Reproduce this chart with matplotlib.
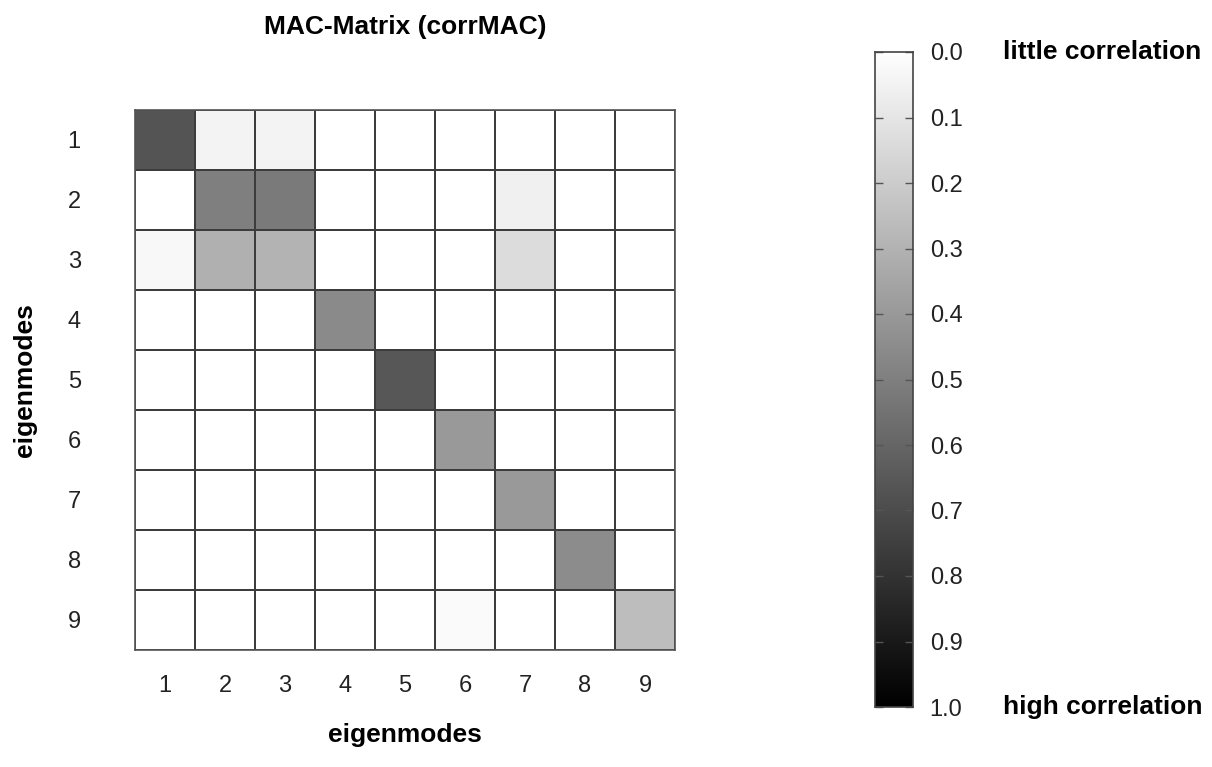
import numpy as np
import matplotlib
matplotlib.use("Agg")
import matplotlib.pyplot as plt

plt.rcParams['font.family'] = ['Liberation Sans', 'DejaVu Sans']

modes = [1, 2, 3, 4, 5, 6, 7, 8, 9]
row1 = [0.67, 0.05, 0.05, 0.00, 0.00, 0.00, 0.00, 0.00, 0.00]
row2 = [0.00, 0.50, 0.52, 0.00, 0.00, 0.00, 0.06, 0.00, 0.00]
row3 = [0.03, 0.31, 0.30, 0.00, 0.00, 0.00, 0.14, 0.00, 0.00]
row4 = [0.00, 0.00, 0.00, 0.46, 0.00, 0.00, 0.00, 0.00, 0.00]
row5 = [0.00, 0.00, 0.00, 0.00, 0.66, 0.00, 0.00, 0.00, 0.00]
row6 = [0.00, 0.00, 0.00, 0.00, 0.00, 0.40, 0.00, 0.00, 0.00]
row7 = [0.00, 0.00, 0.00, 0.00, 0.00, 0.00, 0.40, 0.00, 0.00]
row8 = [0.00, 0.00, 0.00, 0.00, 0.00, 0.00, 0.00, 0.45, 0.00]
row9 = [0.00, 0.00, 0.00, 0.00, 0.00, 0.02, 0.00, 0.00, 0.26]
cbar_ticks = [0.0, 0.1, 0.2, 0.3, 0.4, 0.5, 0.6, 0.7, 0.8, 0.9, 1.0]

mac = np.array([row1, row2, row3, row4, row5, row6, row7, row8, row9])

fig = plt.figure(figsize=(12.12, 7.67), dpi=100)
W, H = 1212, 767
ax = fig.add_axes([135 / W, 1 - 650 / H, 540 / W, 540 / H])
edges = np.arange(len(modes) + 1) + 0.5
mesh = ax.pcolormesh(edges, edges, mac, cmap='gray_r', vmin=0, vmax=1,
                     edgecolors='#3c3c3c', linewidth=1.2)
ax.set_xlim(0.5, 9.5)
ax.set_ylim(9.5, 0.5)
ax.set_xticks(modes)
ax.set_yticks(modes)
ax.set_xticklabels([str(m) for m in modes])
ax.set_yticklabels([str(m) for m in modes])
ax.tick_params(axis='x', length=0, pad=18, labelsize=17, labelcolor='#222222')
ax.tick_params(axis='y', length=0, pad=39, labelsize=17, labelcolor='#222222')
for s in ax.spines.values():
    s.set_edgecolor('#555555')
    s.set_linewidth(1.2)
ax.set_title('MAC-Matrix (corrMAC)', fontsize=19, fontweight='bold', pad=55)
ax.set_xlabel('eigenmodes', fontsize=19, fontweight='bold', labelpad=19)
ax.set_ylabel('eigenmodes', fontsize=19, fontweight='bold', labelpad=22)

cax = fig.add_axes([875 / W, 1 - 707 / H, 38 / W, 655 / H])
grad = np.linspace(0, 1, 256).reshape(-1, 1)
cax.imshow(grad, aspect='auto', cmap='gray_r', vmin=0, vmax=1,
           extent=[0, 1, 1, 0])
cax.set_xlim(0, 1)
cax.set_ylim(1, 0)
cax.set_xticks([])
cax.set_yticks(cbar_ticks)
cax.set_yticklabels([f'{t:.1f}' for t in cbar_ticks])
cax.yaxis.tick_right()
cax.tick_params(axis='y', which='both', direction='in', length=6, width=1,
                color='#555555', left=True, right=True, labelleft=False,
                labelright=True, labelsize=17, labelcolor='#222222', pad=12)
for s in cax.spines.values():
    s.set_edgecolor('#444444')
    s.set_linewidth(1.2)

fig.text(1003 / W, 1 - 52 / H, 'little correlation', fontsize=19,
         fontweight='bold', ha='left', va='center')
fig.text(1003 / W, 1 - 707 / H, 'high correlation', fontsize=19,
         fontweight='bold', ha='left', va='center')

fig.savefig('out.png', dpi=100)
